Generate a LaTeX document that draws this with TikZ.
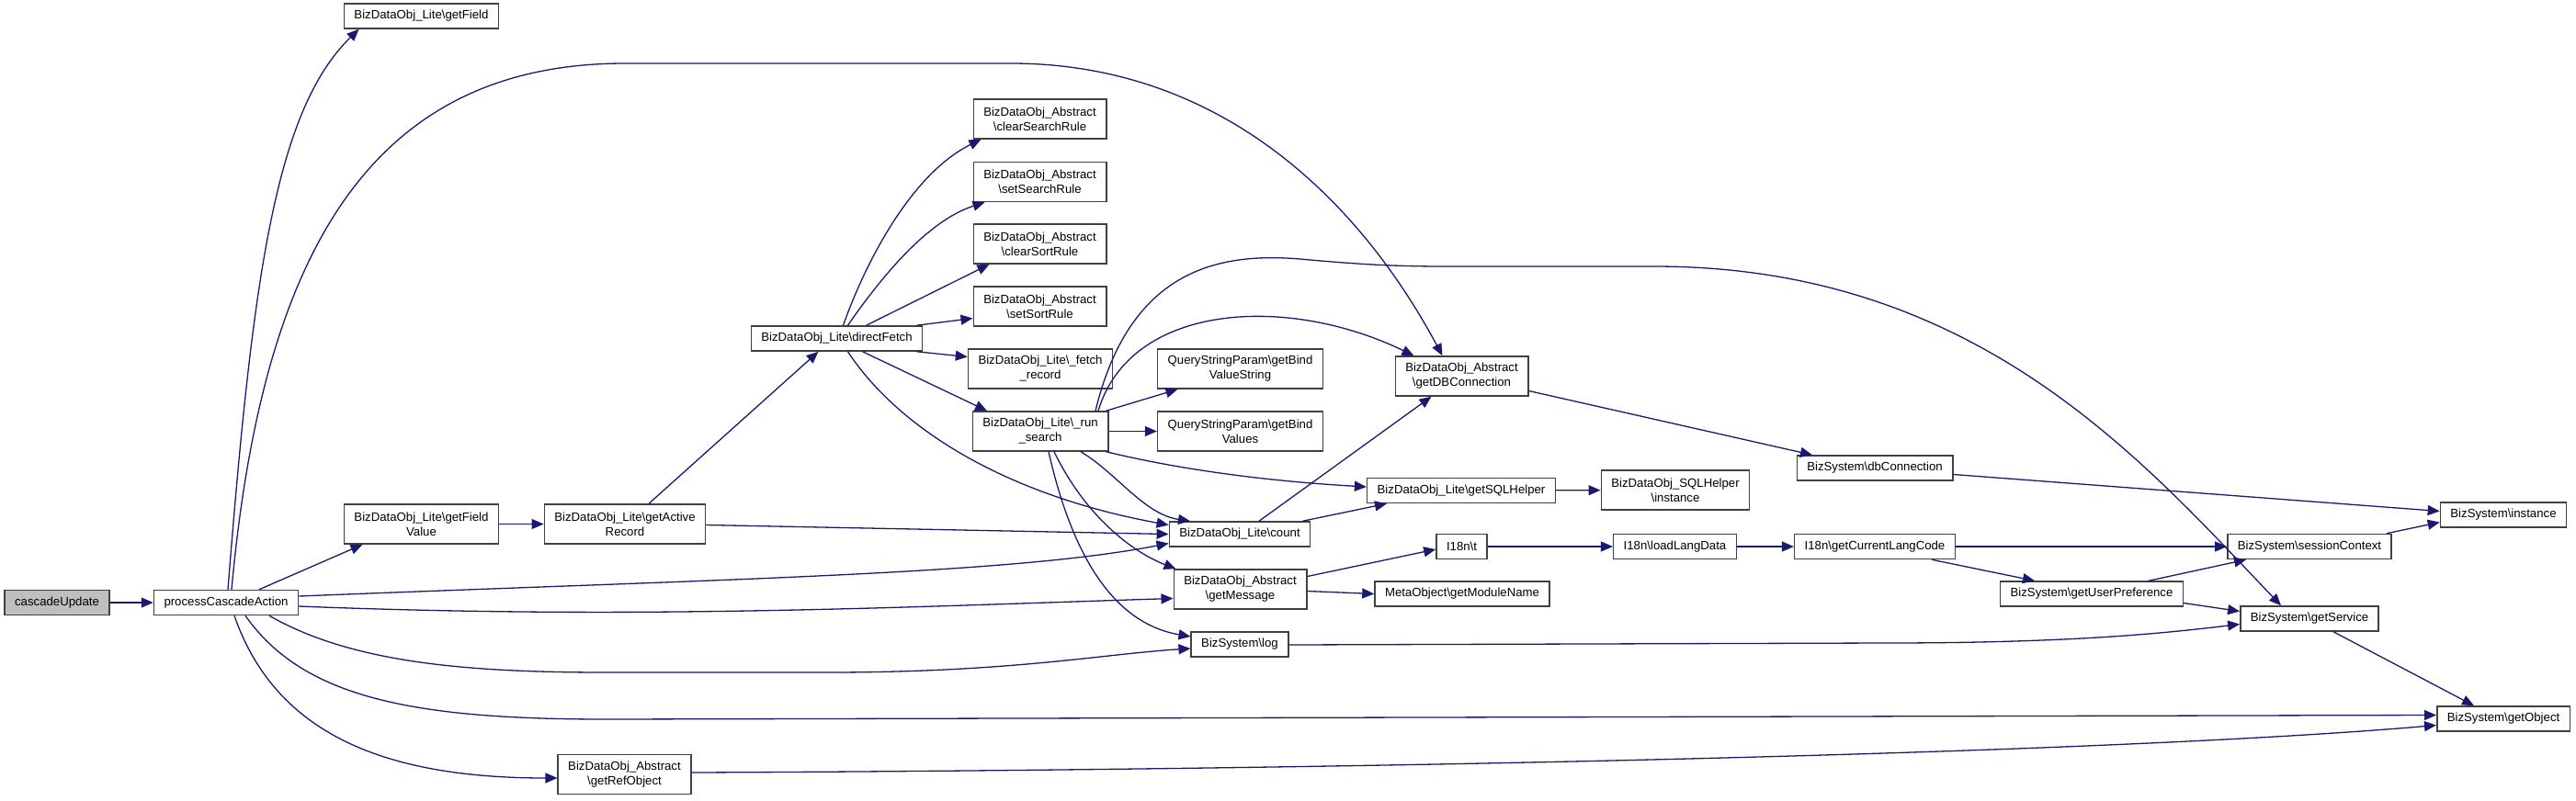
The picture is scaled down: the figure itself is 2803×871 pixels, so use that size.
\documentclass[tikz,border=0pt]{standalone}
\usepackage{fontspec}
\setmainfont{Liberation Sans}
\usetikzlibrary{arrows.meta}
\definecolor{edgecol}{HTML}{191970}
\definecolor{rootfill}{HTML}{BFBFBF}
\definecolor{boxline}{HTML}{404040}
\newcommand{\bsl}{\textbackslash}

\begin{document}
\begin{tikzpicture}[
    x=1pt, y=-1pt,
    fnbox/.style={draw=boxline, line width=1.5pt, fill=white,
      minimum height=27pt, inner xsep=11pt, inner ysep=2pt,
      font=\fontsize{13.2}{16}\selectfont},
    fnbox2/.style={fnbox, minimum height=43pt, align=center},
    callarr/.style={draw=edgecol, line width=1.3pt,
      -{Triangle[length=13pt,width=11pt]}},
  ]

  \useasboundingbox (0,0) rectangle (2803,871);

  % Caller and first level
  \node[fnbox, fill=rootfill] (cu) at (62,656) {cascadeUpdate};
  \node[fnbox] (pca) at (246,656) {processCascadeAction};
  \node[fnbox] (gf) at (458.5,17.5) {BizDataObj\_Lite\bsl getField};
  \node[fnbox2] (gfv) at (458.5,570.5) {BizDataObj\_Lite\bsl getField\\Value};
  \node[fnbox2] (gar) at (680,570.5) {BizDataObj\_Lite\bsl getActive\\Record};
  \node[fnbox2] (gro) at (679.5,843) {BizDataObj\_Abstract\\\bsl getRefObject};
  \node[fnbox] (df) at (910.5,368.5) {BizDataObj\_Lite\bsl directFetch};

  % Rules and fetching
  \node[fnbox2] (csr) at (1131.5,129.5) {BizDataObj\_Abstract\\\bsl clearSearchRule};
  \node[fnbox2] (ssr) at (1131.5,198) {BizDataObj\_Abstract\\\bsl setSearchRule};
  \node[fnbox2] (cso) at (1131.5,265.5) {BizDataObj\_Abstract\\\bsl clearSortRule};
  \node[fnbox2] (sso) at (1131.5,333.5) {BizDataObj\_Abstract\\\bsl setSortRule};
  \node[fnbox2] (fr) at (1132,401.5) {BizDataObj\_Lite\bsl\_fetch\\\_record};
  \node[fnbox2] (rs) at (1132,469.5) {BizDataObj\_Lite\bsl\_run\\\_search};

  % Middle column
  \node[fnbox2] (qbvs) at (1349.5,401.5) {QueryStringParam\bsl getBind\\ValueString};
  \node[fnbox2] (qbv) at (1349.5,469.5) {QueryStringParam\bsl getBind\\Values};
  \node[fnbox] (cnt) at (1349,581.5) {BizDataObj\_Lite\bsl count};
  \node[fnbox2] (gmsg) at (1349.5,641.5) {BizDataObj\_Abstract\\\bsl getMessage};
  \node[fnbox] (log) at (1349,701.5) {BizSystem\bsl log};

  \node[fnbox2] (gdb) at (1590.5,409.5) {BizDataObj\_Abstract\\\bsl getDBConnection};
  \node[fnbox] (gsql) at (1590,534) {BizDataObj\_Lite\bsl getSQLHelper};
  \node[fnbox] (it) at (1590.5,595) {I18n\bsl t};
  \node[fnbox] (gmn) at (1591,646.5) {MetaObject\bsl getModuleName};

  % Right part
  \node[fnbox2] (sqli) at (1823,533.5) {BizDataObj\_SQLHelper\\\bsl instance};
  \node[fnbox] (lld) at (1822.5,595) {I18n\bsl loadLangData};
  \node[fnbox] (dbc) at (2040,509.5) {BizSystem\bsl dbConnection};
  \node[fnbox] (gclc) at (2040,595) {I18n\bsl getCurrentLangCode};
  \node[fnbox] (gup) at (2276,646.5) {BizSystem\bsl getUserPreference};
  \node[fnbox] (sc) at (2513,595) {BizSystem\bsl sessionContext};
  \node[fnbox] (gs) at (2513,673.5) {BizSystem\bsl getService};
  \node[fnbox] (bsi) at (2724,560.5) {BizSystem\bsl instance};
  \node[fnbox] (go) at (2724,782.5) {BizSystem\bsl getObject};

  % Calls of processCascadeAction
  \draw[callarr] (cu) -- (pca);
  \draw[callarr] ([xshift=2]pca.north)
    .. controls (275,300) and (300,120) .. ([xshift=-68]gf.south);
  \draw[callarr] ([xshift=6]pca.north)
    .. controls (285,280) and (400,69) .. (680,69) -- (1100,69)
    .. controls (1330,69) and (1480,220) .. ([xshift=-21]gdb.north);
  \draw[callarr] ([xshift=36]pca.north) -- ([xshift=-64]gfv.south);
  \draw[callarr] ([yshift=7]pca.east)
    .. controls (800,630) and (1100,625) .. ([yshift=-10]cnt.west);
  \draw[callarr] ([yshift=-4]pca.east)
    .. controls (700,675) and (1000,660) .. ([yshift=-10]gmsg.west);
  \draw[callarr] ([xshift=47]pca.south)
    .. controls (380,720) and (500,732) .. (660,732) -- (900,732)
    .. controls (1100,732) and (1200,712) .. ([yshift=-4.5]log.west);
  \draw[callarr] ([xshift=21]pca.south)
    .. controls (330,760) and (450,783) .. (660,783)
    -- ([yshift=4]go.west);
  \draw[callarr] ([xshift=9]pca.south)
    .. controls (300,800) and (420,847) .. ([yshift=-4]gro.west);

  % getFieldValue and getActiveRecord
  \draw[callarr] (gfv) -- (gar);
  \draw[callarr] ([xshift=26]gar.north) -- ([xshift=-20]df.south);
  \draw[callarr] ([yshift=-1]gar.east) -- (cnt.west);
  \draw[callarr] ([yshift=2]gro.east)
    .. controls (1500,838) and (2300,820) .. ([yshift=-7]go.west);

  % Calls of directFetch
  \draw[callarr] ([xshift=7]df.north)
    .. controls (940,290) and (990,190) .. ([xshift=-64]csr.south);
  \draw[callarr] ([xshift=12]df.north)
    .. controls (960,300) and (1010,240) .. ([xshift=-60]ssr.south);
  \draw[callarr] ([xshift=32]df.north) -- ([xshift=-55]cso.south);
  \draw[callarr] ([xshift=-7]df.north east) -- ([yshift=-13]sso.west);
  \draw[callarr] ([xshift=-7]df.south east) -- ([yshift=13]fr.west);
  \draw[callarr] ([xshift=28]df.south) -- ([xshift=-58]rs.north);
  \draw[callarr] ([xshift=12]df.south)
    .. controls (980,470) and (1100,540) .. ([yshift=10]cnt.west);

  % Calls of _run_search
  \draw[callarr] ([xshift=63]rs.north)
    .. controls (1230,330) and (1400,320) .. ([xshift=-52]gdb.north);
  \draw[callarr] ([xshift=60]rs.north)
    .. controls (1230,290) and (1330,275) .. (1415,282)
    .. controls (1480,288) and (1520,290) .. (1573,290) -- (1800,290)
    .. controls (2150,290) and (2330,500) .. ([xshift=-31]gs.north);
  \draw[callarr] ([xshift=-3]rs.north east) -- ([xshift=-68]qbvs.south);
  \draw[callarr] (rs) -- (qbv);
  \draw[callarr] ([xshift=-3]rs.south east)
    .. controls (1300,515) and (1400,525) .. ([yshift=4]gsql.west);
  \draw[callarr] ([xshift=44]rs.south)
    .. controls (1215,515) and (1245,560) .. ([xshift=-54]cnt.north);
  \draw[callarr] ([xshift=15]rs.south)
    .. controls (1180,560) and (1230,600) .. ([xshift=-70]gmsg.north);
  \draw[callarr] ([xshift=9]rs.south)
    .. controls (1170,620) and (1220,680) .. ([yshift=8.5]log.west);

  % count, getMessage and below
  \draw[callarr] ([xshift=21]cnt.north) -- ([xshift=-33]gdb.south);
  \draw[callarr] ([xshift=-9]cnt.north east) -- ([xshift=-81]gsql.south);
  \draw[callarr] ([yshift=-16]gdb.east) -- ([xshift=-68]dbc.north);
  \draw[callarr] (gsql) -- (sqli);
  \draw[callarr] ([yshift=14]gmsg.east) -- ([yshift=-3]it.west);
  \draw[callarr] ([yshift=-2]gmsg.east) -- (gmn.west);
  \draw[callarr] (it) -- (lld);
  \draw[callarr] (lld) -- (gclc);
  \draw[callarr] (gclc) -- (sc);
  \draw[callarr] ([xshift=62]gclc.south) -- ([xshift=-62]gup.north);
  \draw[callarr] ([xshift=62]gup.north) -- ([xshift=-69]sc.south);
  \draw[callarr] ([yshift=-10]gup.east) -- ([yshift=8]gs.west);
  \draw[callarr] ([xshift=-6]sc.north east) -- ([yshift=-8]bsi.west);
  \draw[callarr] ([yshift=-7]dbc.east) -- ([yshift=4]bsi.west);
  \draw[callarr] ([yshift=-0.5]log.east) -- (2050,700)
    .. controls (2250,700) and (2350,690) .. ([yshift=-6]gs.west);
  \draw[callarr] ([xshift=26]gs.south) -- ([xshift=-32]go.north);

\end{tikzpicture}
\end{document}
